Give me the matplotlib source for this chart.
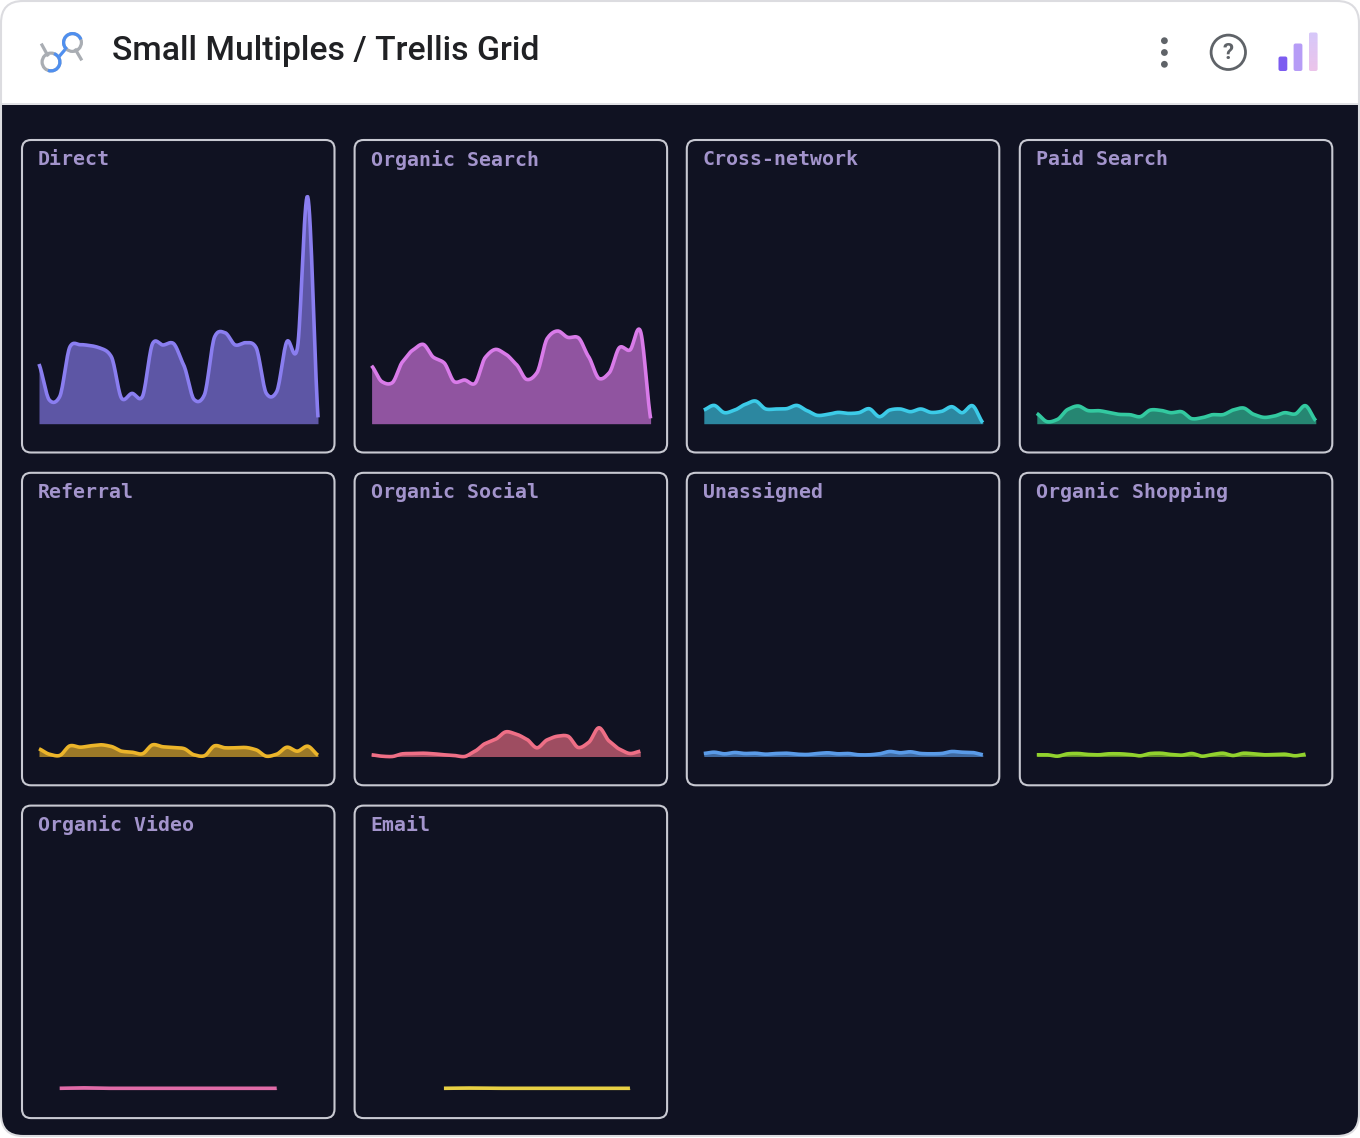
import numpy as np
import matplotlib
matplotlib.use("Agg")
import matplotlib.pyplot as plt
from matplotlib.patches import FancyBboxPatch, Circle, Arc, Rectangle
from matplotlib.lines import Line2D

W, H = 1360, 1138
BODY = "#101222"
FILL_ALPHA = 0.64

# Channel names in grid order
channels = ["Direct", "Organic Search", "Cross-network", "Paid Search",
            "Referral", "Organic Social", "Unassigned", "Organic Shopping",
            "Organic Video", "Email"]

colors = ["#8a7ef0", "#d97be9", "#3ccbe8", "#33c9a0",
          "#ecb52a", "#ef6f86", "#5a9be8", "#92d22e",
          "#e06ba8", "#e8d044"]

# First day on which each channel has data
first_day = [0, 0, 0, 0, 0, 0, 0, 0, 2, 7]

direct = [59.7, 23.7, 27, 77, 79, 78, 75.3, 67, 25.3, 30.3, 27, 80.3, 78.7, 80.3,
          58.7, 24.3, 28.7, 87, 91, 78.7, 81, 76.3, 30.3, 32, 82.3, 75.3, 227, 6.3]
organic_search = [58, 42, 41, 62, 73.7, 79.3, 66.3, 61, 42, 43.7, 40.3, 66.3, 74.3, 69.3,
                  59.3, 44.3, 51, 85.3, 92.7, 86.3, 86, 67, 45.3, 51, 76.3, 73.7, 93, 5.3]
cross_network = [13.7, 18.3, 11, 13.7, 19.3, 22.7, 14.7, 14.7, 15, 18.3, 13, 8.3, 9.3, 11.3,
                 10.3, 11, 15, 7, 13.7, 14.7, 12, 14.7, 11.3, 12.3, 17, 11, 18, 1]
paid_search = [10.3, 2, 4.3, 14.3, 17.7, 13, 13, 11.3, 9.3, 9, 7, 13.7, 13.3, 11,
               12, 5, 6, 9, 9, 13.7, 15.7, 9.3, 6.3, 7.7, 11, 9.7, 18, 3]
referral = [7.7, 2.3, 1, 10.7, 9.3, 10.7, 11.7, 10, 5.3, 4.3, 2.7, 11.7, 9.7, 9,
            8, 1.7, 0.7, 10.7, 8.7, 8.7, 9, 6.7, 0.3, 2.3, 9.3, 5.3, 10.3, 1.3]
organic_social = [1.7, 0.3, 0, 2.7, 3, 3.3, 2.7, 1.7, 1, 0, 5.3, 13, 17.3, 24.7,
                  22.3, 17.3, 8.7, 16.7, 20.3, 20.3, 9, 14, 28.7, 15.3, 7.3, 3, 5.3]
unassigned = [3, 4.3, 2.7, 4, 3, 3.3, 2.3, 3, 3.3, 2.3, 2, 3, 3.7, 2.7,
              3, 1.7, 1.7, 2.7, 5, 3.7, 4.7, 3, 2.7, 3, 5, 4.3, 4, 1.7]
organic_shopping = [1.7, 1.7, 0.3, 2.7, 3, 2, 1.7, 2.7, 2.7, 2, 0.7, 3, 3.3, 2,
                    1.3, 3, 0.3, 2, 3.3, 1, 3.3, 2.7, 1.7, 2, 2.3, 0.7, 2.3]
organic_video = [1, 1.3, 1.5, 1.3, 1, 1, 1, 1, 1, 1, 1, 1, 1, 1, 1, 1, 1, 1, 1, 1, 1, 1]
email = [1, 1.2, 1.3, 1.2, 1, 1, 1, 1, 1, 1, 1, 1, 1, 1, 1, 1, 1, 1, 1]

series = [direct, organic_search, cross_network, paid_search, referral,
          organic_social, unassigned, organic_shopping, organic_video, email]


def smooth_curve(x, y, samples=16, tension=0.72):
    """Cardinal spline through evenly spaced (x, y); tension scales the tangents."""
    x = np.asarray(x, float)
    y = np.asarray(y, float)
    m = np.gradient(y, x) * tension
    xs, ys = [], []
    for i in range(len(x) - 1):
        d = x[i + 1] - x[i]
        t = np.linspace(0, 1, samples, endpoint=False)
        xs.append(x[i] + t * d)
        ys.append((2*t**3 - 3*t**2 + 1) * y[i] + (t**3 - 2*t**2 + t) * d * m[i]
                  + (-2*t**3 + 3*t**2) * y[i + 1] + (t**3 - t**2) * d * m[i + 1])
    xs.append(x[-1:])
    ys.append(y[-1:])
    return np.concatenate(xs), np.concatenate(ys)


fig = plt.figure(figsize=(W / 100, H / 100), dpi=100, facecolor="white")

# Page layer addressed in pixels: card, header, panel frames and titles
page = fig.add_axes([0, 0, 1, 1])
page.set_xlim(0, W)
page.set_ylim(H, 0)
page.axis("off")

card = FancyBboxPatch((1, 1), W - 2, H - 3, boxstyle="round,pad=0,rounding_size=22",
                      fc=BODY, ec="none", zorder=1)
page.add_patch(card)
head = Rectangle((0, 0), W, 104, fc="white", ec="none", zorder=2)
page.add_patch(head)
head.set_clip_path(card)
page.add_patch(Rectangle((0, 102.5), W, 2, fc="#e2e2e6", ec="none", zorder=3))
page.add_patch(FancyBboxPatch((1, 1), W - 2, H - 3, boxstyle="round,pad=0,rounding_size=22",
                              fc="none", ec="#dcdce0", lw=1.5, zorder=4))

page.text(112.5, 51, "Small Multiples / Trellis Grid", family="Roboto", weight=500,
          fontsize=24.35, color="#202124", va="center", ha="left", zorder=5)

# Header logo
GREY = "#a9adb3"
BLUE = "#4f8fef"
LW = 2.3
for (a, b) in [((42, 45), (47.5, 55)), ((75.7, 50), (81, 59))]:
    page.add_line(Line2D([a[0], b[0]], [a[1], b[1]], color=GREY, lw=LW, zorder=5))
page.add_line(Line2D([60, 66], [55.5, 48.5], color=BLUE, lw=LW, zorder=5))
page.add_patch(Circle((72.5, 42.5), 8.9, fc="none", ec=GREY, lw=LW, zorder=5))
page.add_patch(Arc((72.5, 42.5), 17.8, 17.8, theta1=130, theta2=340, ec=BLUE, lw=LW, zorder=6))
page.add_patch(Circle((51, 62), 8.9, fc="none", ec=GREY, lw=LW, zorder=5))
page.add_patch(Arc((51, 62), 17.8, 17.8, theta1=-70, theta2=110, ec=BLUE, lw=LW, zorder=6))

# Header controls
for cy in (40.7, 52.5, 64.3):
    page.add_patch(Circle((1164.4, cy), 3.4, fc="#5f6368", ec="none", zorder=5))
page.add_patch(Circle((1228.3, 52.3), 17.2, fc="none", ec="#5f6368", lw=2, zorder=5))
page.text(1228.3, 52.5, "?", family="Roboto", weight="bold", fontsize=16,
          color="#5f6368", ha="center", va="center", zorder=5)

for (x0, x1, y0, col) in [(1278.5, 1287.3, 56.5, "#7c5cf0"), (1293.6, 1302.4, 43.5, "#b69cf6")]:
    page.add_patch(FancyBboxPatch((x0, y0), x1 - x0, 71 - y0, boxstyle="round,pad=0,rounding_size=2",
                                  fc=col, ec="none", zorder=5))
tall = FancyBboxPatch((1308.8, 32.5), 8.8, 38.5, boxstyle="round,pad=0,rounding_size=2",
                      fc="none", ec="none", zorder=5)
page.add_patch(tall)
top_rgb = np.array(matplotlib.colors.to_rgb("#d6c8fa"))
low_rgb = np.array(matplotlib.colors.to_rgb("#ecc4ea"))
ramp = np.linspace(top_rgb, low_rgb, 32)[:, None, :]
grad = page.imshow(ramp, extent=(1308.8, 1317.6, 71, 32.5), aspect="auto", zorder=5)
grad.set_clip_path(tall)
page.set_xlim(0, W)
page.set_ylim(H, 0)

# Panel geometry in pixels
PANEL_X = [22, 354.6, 686.8, 1019.8]
PANEL_Y = [140, 472.8, 805.6]
PANEL_SIZE = 312.5
DAYS = 27

for idx, (name, values, col, start) in enumerate(zip(channels, series, colors, first_day)):
    row, column = divmod(idx, 4)
    px, py = PANEL_X[column], PANEL_Y[row]

    page.add_patch(FancyBboxPatch((px, py), PANEL_SIZE, PANEL_SIZE,
                                  boxstyle="round,pad=0,rounding_size=9",
                                  fc="none", ec="#c8c9d2", lw=1.5, zorder=3))
    page.text(px + 16.1, py + 19.6, name, family="DejaVu Sans Mono", weight="bold", fontsize=14.3,
              color="#a394cc", va="center", ha="left", zorder=5)

    # Plot area: baseline 284 px below the frame top, 279 px wide
    left, right = px + 17, px + 296
    base, top = py + 283.7, py + 40
    ax = fig.add_axes([left / W, 1 - base / H, (right - left) / W, (base - top) / H])
    ax.set_xlim(0, DAYS)
    ax.set_ylim(0, base - top)
    ax.axis("off")
    ax.patch.set_alpha(0)

    days = start + np.arange(len(values))
    cx, cy = smooth_curve(days, values)
    ax.fill_between(cx, 0, cy, color=col, alpha=FILL_ALPHA, lw=0, clip_on=False)
    ax.plot(cx, cy, color=col, lw=2.6, solid_capstyle="butt", solid_joinstyle="round", clip_on=False)

fig.savefig("out.png", dpi=100, facecolor="white")
